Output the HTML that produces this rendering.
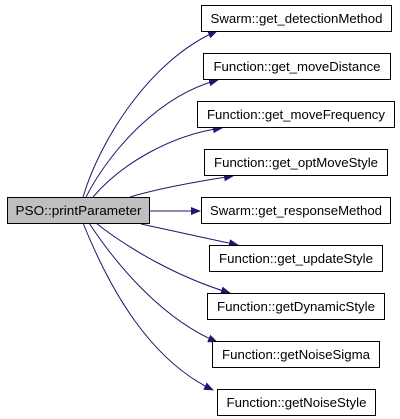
<!DOCTYPE html>
<html><head><style>html,body{margin:0;padding:0;background:#fff}svg{display:block}</style></head>
<body>
<svg width="400" height="419" viewBox="0 0 400 419" xmlns="http://www.w3.org/2000/svg" font-family="Liberation Sans, sans-serif" font-size="13">
<defs><marker id="a" markerWidth="10" markerHeight="8" refX="9" refY="4" orient="auto" markerUnits="userSpaceOnUse"><path d="M0,0 L10,4 L0,8 z" fill="#191970"/></marker></defs>
<g fill="none" stroke="#191970" stroke-width="1" marker-end="url(#a)">
<path d="M83,197 C100,140 150,60 217,31"/>
<path d="M86,197 C110,150 160,95 218,80"/>
<path d="M93,197 C120,165 170,135 222,128"/>
<path d="M130,197 C160,188 200,181 233,176"/>
<path d="M149,211 L200,211"/>
<path d="M141,224 C170,230 205,238 238,245"/>
<path d="M96,223 C130,250 180,278 230,293"/>
<path d="M89,223 C120,270 165,320 217,342"/>
<path d="M83,223 C110,290 150,360 213,390"/>
</g>
<g stroke="#000" stroke-width="1">
<rect x="7.5" y="197.5" width="142" height="26" fill="#bfbfbf"/>
<rect x="201.5" y="5.5" width="190" height="26" fill="#fff"/>
<rect x="203.5" y="53.5" width="187" height="26" fill="#fff"/>
<rect x="197.5" y="101.5" width="197" height="26" fill="#fff"/>
<rect x="204.5" y="149.5" width="183" height="26" fill="#fff"/>
<rect x="201.5" y="197.5" width="189" height="26" fill="#fff"/>
<rect x="209.5" y="245.5" width="173" height="26" fill="#fff"/>
<rect x="207.5" y="293.5" width="177" height="26" fill="#fff"/>
<rect x="212.5" y="341.5" width="167" height="26" fill="#fff"/>
<rect x="217.5" y="389.5" width="158" height="26" fill="#fff"/>
</g>
<g fill="#000" text-anchor="middle">
<text x="78.5" y="215" textLength="126" lengthAdjust="spacingAndGlyphs">PSO::printParameter</text>
<text x="296.5" y="23" textLength="172" lengthAdjust="spacingAndGlyphs">Swarm::get_detectionMethod</text>
<text x="297" y="71" textLength="167" lengthAdjust="spacingAndGlyphs">Function::get_moveDistance</text>
<text x="296" y="119" textLength="178" lengthAdjust="spacingAndGlyphs">Function::get_moveFrequency</text>
<text x="296" y="167" textLength="164" lengthAdjust="spacingAndGlyphs">Function::get_optMoveStyle</text>
<text x="296" y="215" textLength="172" lengthAdjust="spacingAndGlyphs">Swarm::get_responseMethod</text>
<text x="296" y="263" textLength="154" lengthAdjust="spacingAndGlyphs">Function::get_updateStyle</text>
<text x="296" y="311" textLength="158" lengthAdjust="spacingAndGlyphs">Function::getDynamicStyle</text>
<text x="296" y="359" textLength="148" lengthAdjust="spacingAndGlyphs">Function::getNoiseSigma</text>
<text x="296.5" y="407" textLength="140" lengthAdjust="spacingAndGlyphs">Function::getNoiseStyle</text>
</g>
</svg>
</body></html>
